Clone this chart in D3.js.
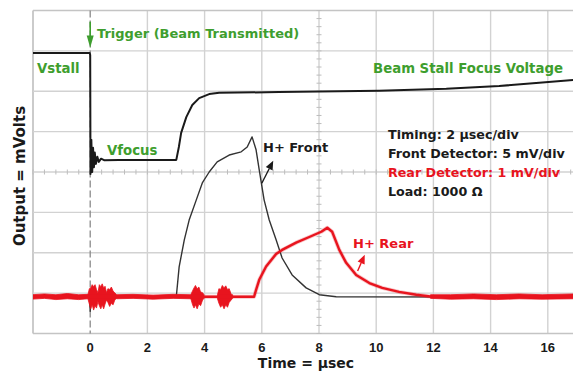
<!DOCTYPE html>
<html>
<head>
<meta charset="utf-8">
<script src="https://cdn.jsdelivr.net/npm/d3@7/dist/d3.min.js"></script>
<style>
  html, body { margin: 0; padding: 0; background: #fff; }
  svg { display: block; }
  .lbl { font-family: "DejaVu Sans", sans-serif; font-weight: bold; }
  .tick { font-family: "Liberation Sans", Arial, sans-serif; font-weight: bold; }
</style>
</head>
<body>
<svg id="chart" width="573" height="372"></svg>
<script>
// Oscilloscope capture: time in microseconds, amplitude in vertical divisions.
const timeTicks = [0, 2, 4, 6, 8, 10, 12, 14, 16];
const gridTimes = [-2, 0, 2, 4, 6, 8, 10, 12, 14, 16, 18];
const gridDivs = [0, 1, 2, 3, 4, 5, 6, 7, 8];

// Beam stall / focus voltage trace [time, div]
const stallTrace = [
  [-2.03, 6.95], [-0.02, 6.95], [0.0, 6.9], [0.01, 3.95], [0.04, 4.8], [0.07, 4.0],
  [0.1, 4.6], [0.13, 4.12], [0.16, 4.48], [0.2, 4.2], [0.25, 4.38], [0.3, 4.25],
  [0.38, 4.33], [0.5, 4.29], [1.0, 4.3], [2.0, 4.3], [3.01, 4.3], [3.1, 4.62],
  [3.18, 4.97], [3.36, 5.36], [3.57, 5.66], [3.81, 5.83], [4.16, 5.93], [4.51, 5.96],
  [6.6, 5.98], [10.1, 6.01], [12.45, 6.06], [14.3, 6.13], [15.7, 6.21], [16.9, 6.28]
];

// H+ front detector [time, div]
const frontTrace = [
  [-2.03, 0.91], [-0.02, 0.91], [0.0, 0.55], [0.03, 1.1], [0.08, 0.91], [3.01, 0.91],
  [3.11, 1.65], [3.29, 2.32], [3.46, 2.81], [3.71, 3.31], [3.92, 3.73], [4.16, 4.0],
  [4.44, 4.25], [4.86, 4.42], [5.28, 4.5], [5.49, 4.62], [5.66, 4.87], [5.8, 4.55],
  [5.91, 4.05], [6.08, 3.31], [6.26, 2.81], [6.5, 2.32], [6.71, 1.87], [7.06, 1.45],
  [7.55, 1.13], [8.01, 0.96], [8.6, 0.91], [16.9, 0.9]
];

// H+ rear detector [time, div]
const rearTrace = [
  [-2.03, 0.91], [5.73, 0.91], [5.8, 1.08], [5.91, 1.33], [6.15, 1.66], [6.5, 1.97],
  [6.71, 2.07], [7.2, 2.25], [7.66, 2.39], [8.08, 2.52], [8.29, 2.62], [8.46, 2.52],
  [8.71, 2.07], [8.95, 1.75], [9.3, 1.45], [9.76, 1.25], [10.21, 1.13], [10.8, 1.03],
  [11.4, 0.96], [11.96, 0.91], [16.9, 0.91]
];

// Rear detector baseline level and noise bursts [time, below, above] in div
const rearBaseline = 0.91;
const rearBursts = [
  [[-0.08, 0.05, 0.05], [-0.03, 0.18, 0.2], [0.02, 0.3, 0.22], [0.07, 0.2, 0.3],
   [0.12, 0.33, 0.25], [0.17, 0.22, 0.3], [0.22, 0.28, 0.18], [0.27, 0.12, 0.1],
   [0.32, 0.22, 0.3], [0.37, 0.3, 0.25], [0.42, 0.2, 0.32], [0.47, 0.3, 0.22],
   [0.52, 0.18, 0.26], [0.57, 0.08, 0.1], [0.62, 0.14, 0.2], [0.68, 0.24, 0.18],
   [0.74, 0.16, 0.24], [0.8, 0.2, 0.14], [0.86, 0.08, 0.1], [0.92, 0.04, 0.05]],
  [[3.52, 0.05, 0.05], [3.58, 0.2, 0.15], [3.63, 0.28, 0.22], [3.68, 0.2, 0.28],
   [3.74, 0.3, 0.2], [3.8, 0.18, 0.24], [3.86, 0.22, 0.12], [3.93, 0.08, 0.1],
   [3.98, 0.04, 0.05]],
  [[4.45, 0.05, 0.05], [4.5, 0.16, 0.2], [4.56, 0.26, 0.18], [4.62, 0.2, 0.28],
   [4.68, 0.3, 0.22], [4.74, 0.2, 0.27], [4.8, 0.26, 0.18], [4.86, 0.14, 0.2],
   [4.93, 0.08, 0.06], [4.98, 0.04, 0.05]],
  [[-2.03, 0.06, 0.05], [-1.6, 0.04, 0.07], [-1.2, 0.07, 0.05], [-0.8, 0.05, 0.08],
   [-0.4, 0.07, 0.05], [-0.08, 0.05, 0.06]],
  [[0.92, 0.05, 0.05], [1.5, 0.04, 0.06], [2.2, 0.06, 0.04], [2.9, 0.04, 0.06],
   [3.52, 0.05, 0.05]],
  [[11.9, 0.04, 0.05], [12.6, 0.06, 0.05], [13.4, 0.05, 0.07], [14.2, 0.07, 0.05],
   [15.0, 0.05, 0.07], [15.8, 0.06, 0.05], [16.9, 0.05, 0.07]]
];

const infoLines = [
  { text: "Timing: 2 \u00b5sec/div", color: "#1a1a1a" },
  { text: "Front Detector: 5 mV/div", color: "#1a1a1a" },
  { text: "Rear Detector: 1 mV/div", color: "#e8141e" },
  { text: "Load: 1000 \u03a9", color: "#1a1a1a" }
];

const W = 573, H = 372;
const green = "#3e9e2e", red = "#e8141e", ink = "#1a1a1a";
const svg = d3.select("#chart");

const x = d3.scaleLinear().domain([-2, 18]).range([33, 605]);
const y = d3.scaleLinear().domain([0, 8]).range([333.5, 10.5]);

svg.append("defs").append("clipPath").attr("id", "plot")
  .append("rect").attr("x", 33).attr("y", 10.5).attr("width", W - 33).attr("height", 323);

// graticule
const grid = svg.append("g");
grid.selectAll("line.v").data(gridTimes.filter(t => t !== 0)).join("line")
  .attr("x1", d => x(d)).attr("x2", d => x(d))
  .attr("y1", y(8)).attr("y2", y(0))
  .attr("stroke", d => d === -2 ? "#b5b5b5" : "#d2d2d2").attr("stroke-width", 1.4);
grid.selectAll("line.h").data(gridDivs).join("line")
  .attr("x1", x(-2)).attr("x2", W)
  .attr("y1", d => y(d)).attr("y2", d => y(d))
  .attr("stroke", d => (d === 0 || d === 8) ? "#c4c4c4" : "#d2d2d2").attr("stroke-width", 1.4);

// minor ticks on centre lines
const minorT = d3.range(-2, 18.01, 0.4);
grid.selectAll("line.mt").data(minorT).join("line")
  .attr("x1", d => x(d)).attr("x2", d => x(d))
  .attr("y1", y(4) - 2.5).attr("y2", y(4) + 2.5)
  .attr("stroke", "#bdbdbd").attr("stroke-width", 1);
const minorV = d3.range(0, 8.01, 0.2);
grid.selectAll("line.mv").data(minorV).join("line")
  .attr("x1", x(8) - 2.5).attr("x2", x(8) + 2.5)
  .attr("y1", d => y(d)).attr("y2", d => y(d))
  .attr("stroke", "#bdbdbd").attr("stroke-width", 1);

// trigger marker line
grid.append("line")
  .attr("x1", x(0)).attr("x2", x(0)).attr("y1", y(8)).attr("y2", y(0))
  .attr("stroke", "#8a8a8a").attr("stroke-width", 1.3).attr("stroke-dasharray", "7,3");

const line = d3.line().x(d => x(d[0])).y(d => y(d[1]));
const plot = svg.append("g").attr("clip-path", "url(#plot)");

// front detector (black, thin)
plot.append("path").datum(frontTrace).attr("d", line)
  .attr("fill", "none").attr("stroke", "#333").attr("stroke-width", 1.4)
  .attr("stroke-linejoin", "round");

// rear detector noise
const band = d3.area().x(d => x(d[0]))
  .y0(d => y(rearBaseline - d[1])).y1(d => y(rearBaseline + d[2]));
plot.selectAll("path.burst").data(rearBursts).join("path")
  .attr("d", band).attr("fill", red).attr("stroke", red)
  .attr("stroke-width", 0.8).attr("stroke-linejoin", "round");

// rear detector trace
plot.append("path").datum(rearTrace).attr("d", line)
  .attr("fill", "none").attr("stroke", red).attr("stroke-opacity", 0.25)
  .attr("stroke-width", 4).attr("stroke-linejoin", "round");
plot.append("path").datum(rearTrace).attr("d", line)
  .attr("fill", "none").attr("stroke", red).attr("stroke-width", 2.4)
  .attr("stroke-linejoin", "round");

// stall / focus voltage (black, heavier)
plot.append("path").datum(stallTrace).attr("d", line)
  .attr("fill", "none").attr("stroke", ink).attr("stroke-width", 2)
  .attr("stroke-linejoin", "round");

// trigger arrow
svg.append("line").attr("x1", x(0)).attr("x2", x(0))
  .attr("y1", y(7.72)).attr("y2", y(7.3))
  .attr("stroke", green).attr("stroke-width", 1.6);
svg.append("path")
  .attr("d", `M${x(0) - 3.5},${y(7.38)} L${x(0) + 3.5},${y(7.38)} L${x(0)},${y(7.08)} Z`)
  .attr("fill", green);

// callout arrows
function callout(from, to, color) {
  const x0 = x(from[0]), y0 = y(from[1]), x1 = x(to[0]), y1 = y(to[1]);
  const ang = Math.atan2(y1 - y0, x1 - x0);
  const len = 9, wid = 3.8;
  const bx = x1 - len * Math.cos(ang), by = y1 - len * Math.sin(ang);
  const px = -Math.sin(ang) * wid, py = Math.cos(ang) * wid;
  svg.append("line").attr("x1", x0).attr("y1", y0).attr("x2", bx).attr("y2", by)
    .attr("stroke", color).attr("stroke-width", 1.4);
  svg.append("path")
    .attr("d", `M${x1},${y1} L${bx + px},${by + py} L${bx - px},${by - py} Z`)
    .attr("fill", color);
}
callout([6.0, 3.72], [6.4, 4.28], ink);
callout([9.35, 1.55], [9.6, 1.95], red);

// text annotations
function label(txt, px, py, color, size) {
  svg.append("text").attr("class", "lbl").attr("x", px).attr("y", py)
    .attr("dominant-baseline", "central").attr("fill", color)
    .attr("font-size", size).text(txt);
}
label("Trigger (Beam Transmitted)", 97, 33, green, 13);
label("Vstall", 37, 68, green, 13.3);
label("Vfocus", 107, 150, green, 13.3);
label("Beam Stall Focus Voltage", 373, 68, green, 13.3);
label("H+ Front", 263, 147, ink, 13);
label("H+ Rear", 353, 243, red, 13);

svg.selectAll("text.info").data(infoLines).join("text")
  .attr("class", "lbl").attr("x", 388).attr("y", (d, i) => 134 + i * 19)
  .attr("dominant-baseline", "central").attr("font-size", 12.7)
  .attr("fill", d => d.color).text(d => d.text);

// x axis tick labels
svg.selectAll("text.xt").data(timeTicks).join("text")
  .attr("class", "tick").attr("x", d => x(d)).attr("y", 347)
  .attr("text-anchor", "middle").attr("dominant-baseline", "central")
  .attr("font-size", 13).attr("fill", ink).text(d => d);

// axis titles
svg.append("text").attr("class", "lbl").attr("x", 306).attr("y", 363)
  .attr("text-anchor", "middle").attr("dominant-baseline", "central")
  .attr("font-size", 14).attr("fill", ink).text("Time = \u00b5sec");
svg.append("text").attr("class", "lbl")
  .attr("transform", "translate(20,176) rotate(-90)")
  .attr("text-anchor", "middle").attr("dominant-baseline", "central")
  .attr("font-size", 15).attr("fill", ink).text("Output = mVolts");
</script>
</body>
</html>
